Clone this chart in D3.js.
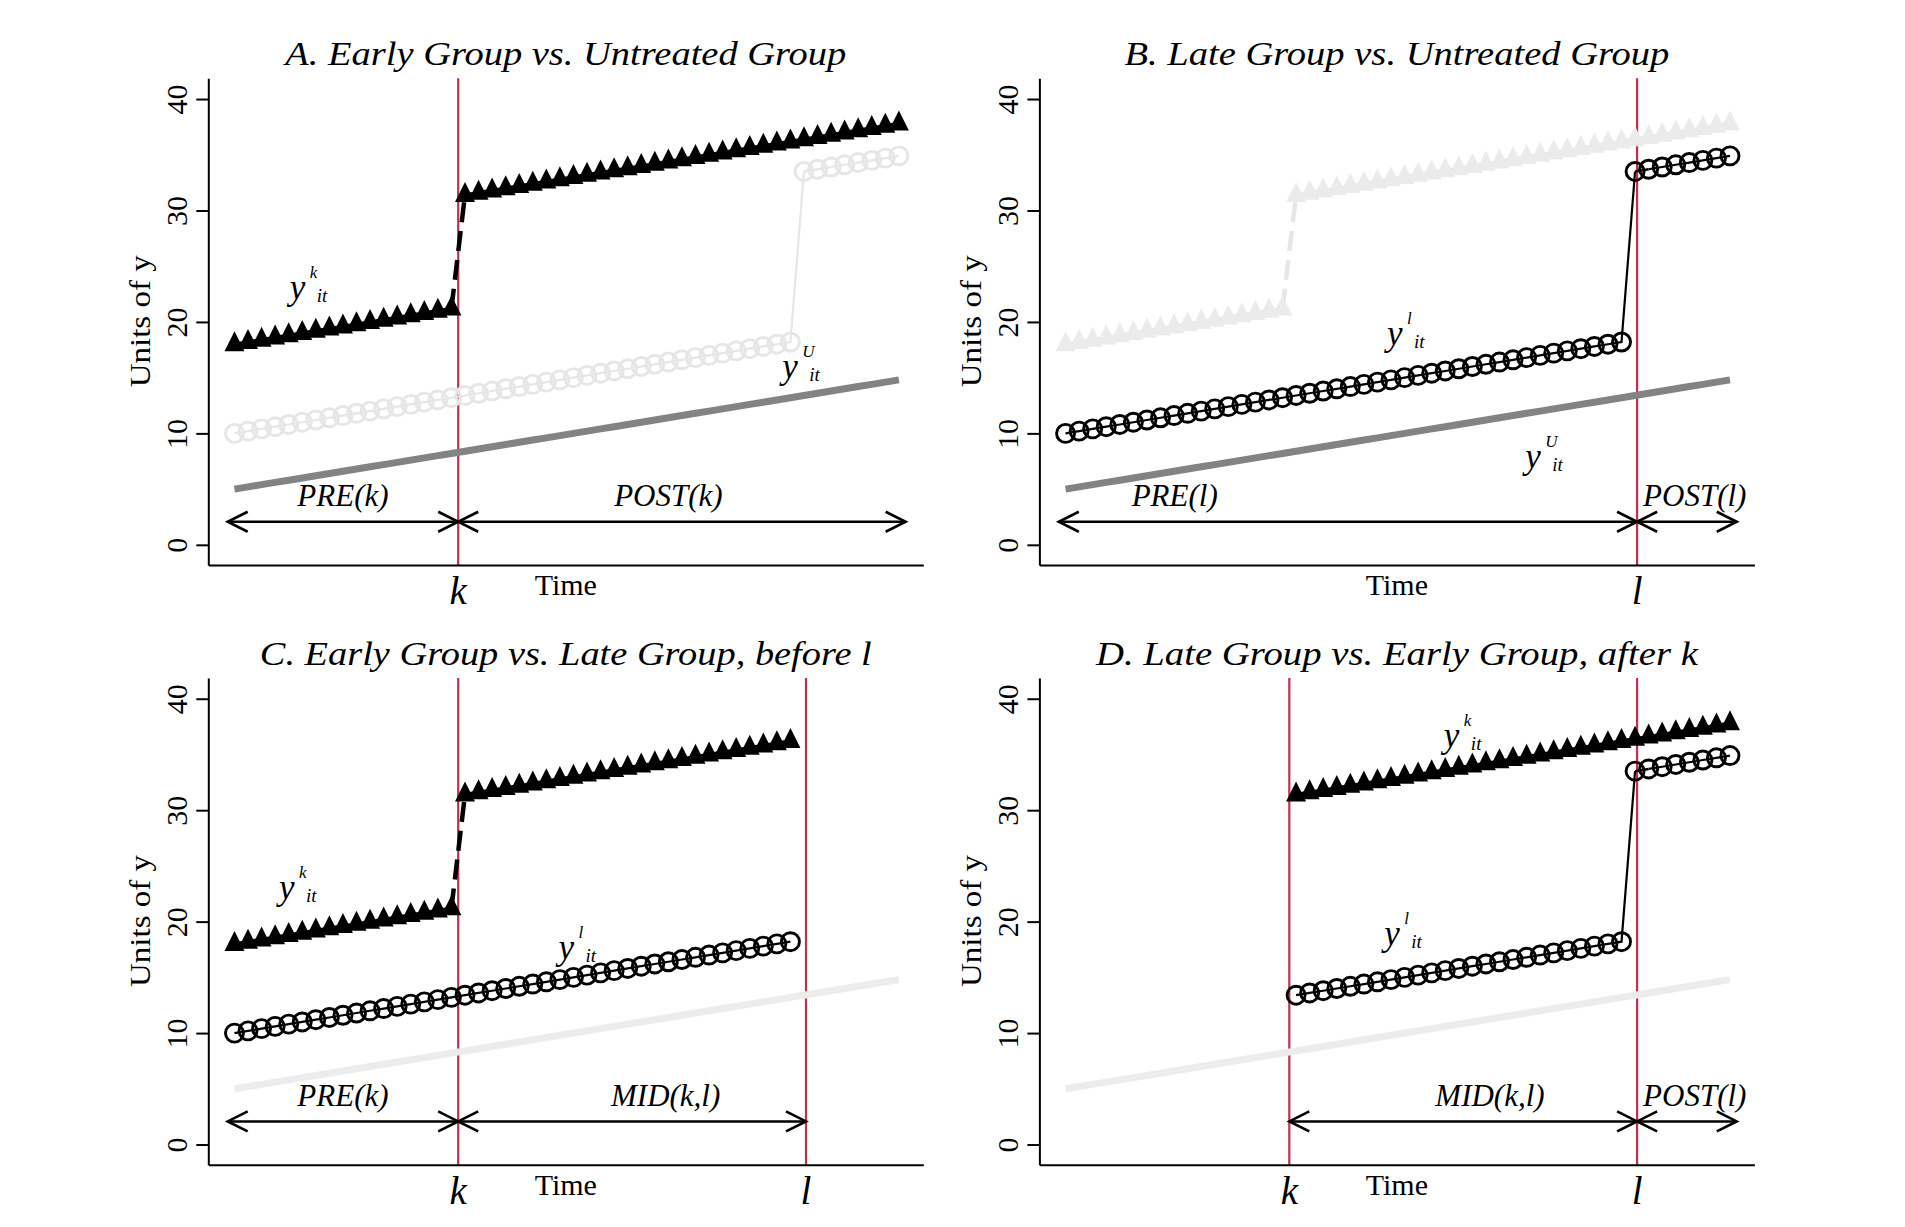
<!DOCTYPE html>
<html>
<head>
<meta charset="utf-8">
<script src="https://cdn.jsdelivr.net/npm/d3@7"></script>
<style>
  body { margin: 0; background: #fff; }
  svg { display: block; }
  text { font-family: "Liberation Serif", "Times New Roman", serif; }
</style>
</head>
<body>
<svg id="chart" width="1905" height="1227"></svg>
<script>
// data
const periods = [
  1, 2, 3, 4, 5, 6, 7, 8, 9, 10, 11, 12, 13, 14, 15, 16, 17, 18, 19, 20, 21, 22, 23, 24, 25,
  26, 27, 28, 29, 30, 31, 32, 33, 34, 35, 36, 37, 38, 39, 40, 41, 42, 43, 44, 45, 46, 47, 48, 49, 50
];
const earlyGroup = [
  18.0, 18.2, 18.4, 18.6, 18.8, 19.0, 19.2, 19.4, 19.6, 19.8,
  20.0, 20.2, 20.4, 20.6, 20.8, 21.0, 21.2, 31.4, 31.6, 31.8,
  32.0, 32.2, 32.4, 32.6, 32.8, 33.0, 33.2, 33.4, 33.6, 33.8,
  34.0, 34.2, 34.4, 34.6, 34.8, 35.0, 35.2, 35.4, 35.6, 35.8,
  36.0, 36.2, 36.4, 36.6, 36.8, 37.0, 37.2, 37.4, 37.6, 37.8
];
const lateGroup = [
  10.0, 10.2, 10.4, 10.6, 10.8, 11.0, 11.2, 11.4, 11.6, 11.8,
  12.0, 12.2, 12.4, 12.6, 12.8, 13.0, 13.2, 13.4, 13.6, 13.8,
  14.0, 14.2, 14.4, 14.6, 14.8, 15.0, 15.2, 15.4, 15.6, 15.8,
  16.0, 16.2, 16.4, 16.6, 16.8, 17.0, 17.2, 17.4, 17.6, 17.8,
  18.0, 18.2, 33.5, 33.7, 33.9, 34.1, 34.3, 34.5, 34.7, 34.9
];
const untreated = [
  5.0, 5.2, 5.4, 5.6, 5.8, 6.0, 6.2, 6.4, 6.6, 6.8,
  7.0, 7.2, 7.4, 7.6, 7.8, 8.0, 8.2, 8.4, 8.6, 8.8,
  9.0, 9.2, 9.4, 9.6, 9.8, 10.0, 10.2, 10.4, 10.6, 10.8,
  11.0, 11.2, 11.4, 11.6, 11.8, 12.0, 12.2, 12.4, 12.6, 12.8,
  13.0, 13.2, 13.4, 13.6, 13.8, 14.0, 14.2, 14.4, 14.6, 14.8
];
const kTime = 17.5, lTime = 43.15;
const yTicks = [0, 10, 20, 30, 40];
const yLabel = "Units of y";
const xLabel = "Time";

// panels: what each one shows
const panels = [
  {
    title: "A. Early Group vs. Untreated Group", titleLen: 561, left: 208.3, top: 78.3,
    early: [1, 50], late: [1, 50], fade: "late", fadeU: false, vlines: ["k"],
    arrows: [[0.5, "k", "PRE(k)", 9], ["k", 50.5, "POST(k)", 33]],
    names: [["k", 5.08, 22.1], ["U", 41.4, 14.97]]
  },
  {
    title: "B. Late Group vs. Untreated Group", titleLen: 545, left: 1039.4, top: 78.3,
    early: [1, 50], late: [1, 50], fade: "early", fadeU: false, vlines: ["l"],
    arrows: [[0.5, "l", "PRE(l)", 9.05], ["l", 50.5, "POST(l)", 47.4]],
    names: [["l", 24.7, 17.9], ["U", 34.9, 6.9]]
  },
  {
    title: "C. Early Group vs. Late Group, before l", titleLen: 612, left: 208.3, top: 678,
    early: [1, 42], late: [1, 42], fade: null, fadeU: true, vlines: ["k", "l"],
    arrows: [[0.5, "k", "PRE(k)", 9], ["k", "l", "MID(k,l)", 32.8]],
    names: [["k", 4.28, 22.0], ["l", 24.9, 16.66]]
  },
  {
    title: "D. Late Group vs. Early Group, after k", titleLen: 602, left: 1039.4, top: 678,
    early: [18, 50], late: [18, 50], fade: null, fadeU: true, vlines: ["k", "l"],
    arrows: [["k", "l", "MID(k,l)", 32.3], ["l", 50.5, "POST(l)", 47.4]],
    names: [["k", 28.9, 35.7], ["l", 24.5, 17.86]]
  }
];

let svg = d3.select("#chart");
let w = 715, h = 486.7;
let red = "#c42e4d", faded = "#e6e6e6";

let x = d3.scaleLinear().domain([-0.93, 51.8]).range([0, w]);
let y = d3.scaleLinear().domain([-1.81, 41.86]).range([h, 0]);
let timeOf = v => v === "k" ? kTime : v === "l" ? lTime : v;

// stata-like triangle, a bit taller than wide
let triangleShape = {
  draw: function (ctx) {
    ctx.moveTo(0, -13);
    ctx.lineTo(10, 7);
    ctx.lineTo(-10, 7);
    ctx.closePath();
  }
};

panels.forEach(p => drawPanel(p));

/**
 * Draw one of the four panels.
 */
function drawPanel(p) {
  let g = svg.append("g").attr("transform", "translate(" + p.left + "," + p.top + ")");

  // treatment dates
  p.vlines.forEach(v => {
    g.append("line")
      .attr("x1", x(timeOf(v))).attr("x2", x(timeOf(v)))
      .attr("y1", 0).attr("y2", h)
      .attr("stroke", red).attr("stroke-width", 2.2);
  });

  // faded group behind
  if (p.fade === "late") drawGroup(g, lateGroup, p.late, lTime, "circle", true);
  if (p.fade === "early") drawGroup(g, earlyGroup, p.early, kTime, "triangle", true);

  // untreated
  g.append("path")
    .datum(periods)
    .attr("d", d3.line().x(t => x(t)).y((t, i) => y(untreated[i])))
    .attr("fill", "none")
    .attr("stroke", p.fadeU ? "#ececec" : "#838383")
    .attr("stroke-width", 7);

  if (p.fade !== "early") drawGroup(g, earlyGroup, p.early, kTime, "triangle", false);
  if (p.fade !== "late") drawGroup(g, lateGroup, p.late, lTime, "circle", false);

  // period arrows
  let ay = y(2.07);
  p.arrows.forEach(a => {
    let x1 = x(timeOf(a[0])), x2 = x(timeOf(a[1]));
    g.append("line")
      .attr("x1", x1).attr("x2", x2).attr("y1", ay).attr("y2", ay)
      .attr("stroke", "#000").attr("stroke-width", 2.6);
    g.append("path")
      .attr("d", "M" + (x1 + 20) + "," + (ay - 10) + "L" + x1 + "," + ay + "L" + (x1 + 20) + "," + (ay + 10) +
        "M" + (x2 - 20) + "," + (ay - 10) + "L" + x2 + "," + ay + "L" + (x2 - 20) + "," + (ay + 10))
      .attr("fill", "none").attr("stroke", "#000").attr("stroke-width", 2.6);
    g.append("text")
      .attr("x", x(a[3])).attr("y", y(3.48))
      .attr("text-anchor", "middle")
      .style("font-size", "31px").style("font-style", "italic")
      .text(a[2]);
  });

  // series names
  p.names.forEach(n => {
    let nx = x(n[1]), ny = y(n[2]);
    g.append("text").attr("x", nx).attr("y", ny)
      .style("font-size", "35px").style("font-style", "italic").text("y");
    g.append("text").attr("x", nx + 20).attr("y", ny - 21)
      .style("font-size", "17px").style("font-style", "italic").text(n[0]);
    g.append("text").attr("x", nx + 27).attr("y", ny + 3)
      .style("font-size", "19px").style("font-style", "italic").text("it");
  });

  // axes
  let yAxis = g.append("g")
    .call(d3.axisLeft(y).tickValues(yTicks).tickSize(12).tickSizeOuter(0));
  yAxis.select(".domain").attr("stroke-width", 2);
  yAxis.selectAll(".tick line").attr("stroke-width", 2);
  yAxis.selectAll(".tick text")
    .attr("transform", "rotate(-90)")
    .attr("x", 0).attr("y", -21).attr("dy", 0)
    .attr("text-anchor", "middle")
    .style("font-family", "'Liberation Serif', serif")
    .style("font-size", "30px")
    .attr("fill", "#000");

  let xAxis = g.append("g")
    .attr("transform", "translate(0," + h + ")")
    .call(d3.axisBottom(x).tickValues([]).tickSizeOuter(0));
  xAxis.select(".domain").attr("stroke-width", 2);

  g.append("text")
    .attr("transform", "translate(-58," + 243 + ") rotate(-90)")
    .attr("text-anchor", "middle")
    .attr("textLength", 132).attr("lengthAdjust", "spacingAndGlyphs")
    .style("font-size", "30px")
    .text(yLabel);

  g.append("text")
    .attr("x", w / 2).attr("y", 517)
    .attr("text-anchor", "middle")
    .style("font-size", "30px")
    .text(xLabel);

  p.vlines.forEach(v => {
    g.append("text")
      .attr("x", x(timeOf(v))).attr("y", 526)
      .attr("text-anchor", "middle")
      .style("font-size", "39px").style("font-style", "italic")
      .text(v);
  });

  // title
  g.append("text")
    .attr("x", w / 2).attr("y", -13.3)
    .attr("text-anchor", "middle")
    .attr("textLength", p.titleLen).attr("lengthAdjust", "spacingAndGlyphs")
    .style("font-size", "33px").style("font-style", "italic")
    .text(p.title);
}

/**
 * Draw a treated group: line, jump at treatment date, markers.
 */
function drawGroup(g, values, range, jumpAt, shape, isFaded) {
  let pts = periods.map((t, i) => [t, values[i]]).filter(d => d[0] >= range[0] && d[0] <= range[1]);
  let pre = pts.filter(d => d[0] < jumpAt);
  let post = pts.filter(d => d[0] > jumpAt);
  let color = isFaded ? faded : "#000";
  let line = d3.line().x(d => x(d[0])).y(d => y(d[1]));

  [pre, post].forEach(seg => {
    if (seg.length > 1) {
      g.append("path").datum(seg).attr("d", line)
        .attr("fill", "none").attr("stroke", color)
        .attr("stroke-width", shape === "triangle" ? 3.5 : 2.2);
    }
  });
  if (pre.length && post.length) {
    g.append("path").datum([pre[pre.length - 1], post[0]]).attr("d", line)
      .attr("fill", "none").attr("stroke", color)
      .attr("stroke-width", shape === "triangle" ? 4.5 : 2.6)
      .attr("stroke-dasharray", shape === "triangle" ? "20,9" : null);
  }

  if (shape === "triangle") {
    g.append("g").selectAll("path").data(pts).join("path")
      .attr("transform", d => "translate(" + x(d[0]) + "," + y(d[1]) + ")")
      .attr("d", d3.symbol(triangleShape))
      .attr("fill", isFaded ? "#ebebeb" : "#000");
  } else {
    g.append("g").selectAll("circle").data(pts).join("circle")
      .attr("cx", d => x(d[0])).attr("cy", d => y(d[1]))
      .attr("r", 9)
      .attr("fill", "none")
      .attr("stroke", color)
      .attr("stroke-width", 2.9);
  }
}
</script>
</body>
</html>
